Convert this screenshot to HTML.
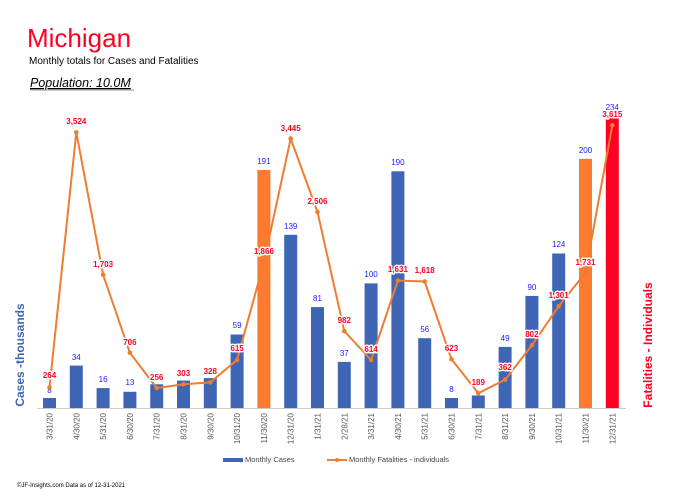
<!DOCTYPE html>
<html><head><meta charset="utf-8"><style>
body{margin:0;background:#fff;}
svg{display:block;font-family:"Liberation Sans",sans-serif;}
.c{font-size:8px;fill:#1a1aff;text-anchor:middle;}
.f{font-size:8px;fill:#ff0022;font-weight:bold;text-anchor:middle;}
.d{font-size:8px;fill:#555;text-anchor:end;}
</style></head><body>
<svg width="684" height="496" viewBox="0 0 684 496">
<text x="27" y="47" font-size="26" fill="#ff0022">Michigan</text>
<text x="29" y="64" font-size="10" fill="#000">Monthly totals for Cases and Fatalities</text>
<text x="30" y="87" font-size="12.5" font-style="italic" fill="#000" text-decoration="underline">Population: 10.0M</text>
<line x1="30" y1="90" x2="134" y2="90" stroke="#999" stroke-width="1"/>

<g fill="#3f65b5">
<rect x="43" y="398" width="13" height="10"/>
<rect x="69.8" y="365.6" width="13" height="42.4"/>
<rect x="96.6" y="388.1" width="13" height="19.9"/>
<rect x="123.4" y="391.8" width="13" height="16.2"/>
<rect x="150.2" y="384.3" width="13" height="23.7"/>
<rect x="177" y="380.6" width="13" height="27.4"/>
<rect x="203.8" y="378.1" width="13" height="29.9"/>
<rect x="230.6" y="334.5" width="13" height="73.5"/>
<rect x="284.2" y="234.8" width="13" height="173.2"/>
<rect x="311" y="307.1" width="13" height="100.9"/>
<rect x="337.8" y="361.9" width="13" height="46.1"/>
<rect x="364.6" y="283.4" width="13" height="124.6"/>
<rect x="391.4" y="171.3" width="13" height="236.7"/>
<rect x="418.2" y="338.2" width="13" height="69.8"/>
<rect x="445" y="398" width="13" height="10"/>
<rect x="471.8" y="395.5" width="13" height="12.5"/>
<rect x="498.6" y="346.9" width="13" height="61.1"/>
<rect x="525.4" y="295.9" width="13" height="112.1"/>
<rect x="552.2" y="253.5" width="13" height="154.5"/>
</g>
<rect x="257.4" y="170" width="13" height="238" fill="#fe7a2f"/>
<rect x="579" y="158.8" width="13" height="249.2" fill="#fe7a2f"/>
<rect x="605.8" y="116.4" width="13" height="291.6" fill="#ff0022"/>

<line x1="37" y1="408.5" x2="626" y2="408.5" stroke="#ccc"/>

<g>
<text class="c" x="49.5" y="393">8</text>
<text class="c" x="76.3" y="360">34</text>
<text class="c" x="103.1" y="382">16</text>
<text class="c" x="129.9" y="385">13</text>
<text class="c" x="237.1" y="328">59</text>
<text class="c" x="263.9" y="164">191</text>
<text class="c" x="290.7" y="229">139</text>
<text class="c" x="317.5" y="301">81</text>
<text class="c" x="344.3" y="356">37</text>
<text class="c" x="371.1" y="277">100</text>
<text class="c" x="397.9" y="165">190</text>
<text class="c" x="424.7" y="332">56</text>
<text class="c" x="451.5" y="392">8</text>
<text class="c" x="505.1" y="341">49</text>
<text class="c" x="531.9" y="290">90</text>
<text class="c" x="558.7" y="247">124</text>
<text class="c" x="585.5" y="153">200</text>
<text class="c" x="612.3" y="110">234</text>
</g>

<polyline fill="none" stroke="#ed7d31" stroke-width="2" points="49.5,387.4 76.3,132.4 103.1,274.8 129.9,352.8 156.7,388 183.5,384.3 210.3,382.4 237.1,359.9 263.9,262.1 290.7,138.6 317.5,212 344.3,331.2 371.1,360 397.9,280.5 424.7,281.5 451.5,359.3 478.3,393.2 505.1,379.7 531.9,345.3 558.7,306.3 585.5,272.6 612.3,125.3"/>
<g fill="#ed7d31">
<circle cx="49.5" cy="387.4" r="2.3"/><circle cx="76.3" cy="132.4" r="2.3"/><circle cx="103.1" cy="274.8" r="2.3"/><circle cx="129.9" cy="352.8" r="2.3"/><circle cx="156.7" cy="388" r="2.3"/><circle cx="183.5" cy="384.3" r="2.3"/><circle cx="210.3" cy="382.4" r="2.3"/><circle cx="237.1" cy="359.9" r="2.3"/><circle cx="263.9" cy="262.1" r="2.3"/><circle cx="290.7" cy="138.6" r="2.3"/><circle cx="317.5" cy="212" r="2.3"/><circle cx="344.3" cy="331.2" r="2.3"/><circle cx="371.1" cy="360" r="2.3"/><circle cx="397.9" cy="280.5" r="2.3"/><circle cx="424.7" cy="281.5" r="2.3"/><circle cx="451.5" cy="359.3" r="2.3"/><circle cx="478.3" cy="393.2" r="2.3"/><circle cx="505.1" cy="379.7" r="2.3"/><circle cx="531.9" cy="345.3" r="2.3"/><circle cx="558.7" cy="306.3" r="2.3"/><circle cx="585.5" cy="272.6" r="2.3"/><circle cx="612.3" cy="125.3" r="2.3"/>
</g>

<g stroke="#fff" stroke-width="3" paint-order="stroke" stroke-linejoin="round">
<text class="f" x="49.5" y="378">264</text>
<text class="f" x="76.3" y="124">3,524</text>
<text class="f" x="103.1" y="267">1,703</text>
<text class="f" x="129.9" y="345">706</text>
<text class="f" x="156.7" y="380">256</text>
<text class="f" x="183.5" y="376">303</text>
<text class="f" x="210.3" y="374">328</text>
<text class="f" x="237.1" y="351">615</text>
<text class="f" x="263.9" y="254">1,866</text>
<text class="f" x="290.7" y="131">3,445</text>
<text class="f" x="317.5" y="204">2,506</text>
<text class="f" x="344.3" y="323">982</text>
<text class="f" x="371.1" y="352">614</text>
<text class="f" x="397.9" y="272">1,631</text>
<text class="f" x="424.7" y="273">1,618</text>
<text class="f" x="451.5" y="351">623</text>
<text class="f" x="478.3" y="385">189</text>
<text class="f" x="505.1" y="370">362</text>
<text class="f" x="531.9" y="337">802</text>
<text class="f" x="558.7" y="298">1,301</text>
<text class="f" x="585.5" y="265">1,731</text>
<text class="f" x="612.3" y="117">3,615</text>
</g>

<g>
<text class="d" transform="translate(52.5,413) rotate(-90)">3/31/20</text>
<text class="d" transform="translate(79.3,413) rotate(-90)">4/30/20</text>
<text class="d" transform="translate(106.1,413) rotate(-90)">5/31/20</text>
<text class="d" transform="translate(132.9,413) rotate(-90)">6/30/20</text>
<text class="d" transform="translate(159.7,413) rotate(-90)">7/31/20</text>
<text class="d" transform="translate(186.5,413) rotate(-90)">8/31/20</text>
<text class="d" transform="translate(213.3,413) rotate(-90)">9/30/20</text>
<text class="d" transform="translate(240.1,413) rotate(-90)">10/31/20</text>
<text class="d" transform="translate(266.9,413) rotate(-90)">11/30/20</text>
<text class="d" transform="translate(293.7,413) rotate(-90)">12/31/20</text>
<text class="d" transform="translate(320.5,413) rotate(-90)">1/31/21</text>
<text class="d" transform="translate(347.3,413) rotate(-90)">2/28/21</text>
<text class="d" transform="translate(374.1,413) rotate(-90)">3/31/21</text>
<text class="d" transform="translate(400.9,413) rotate(-90)">4/30/21</text>
<text class="d" transform="translate(427.7,413) rotate(-90)">5/31/21</text>
<text class="d" transform="translate(454.5,413) rotate(-90)">6/30/21</text>
<text class="d" transform="translate(481.3,413) rotate(-90)">7/31/21</text>
<text class="d" transform="translate(508.1,413) rotate(-90)">8/31/21</text>
<text class="d" transform="translate(534.9,413) rotate(-90)">9/30/21</text>
<text class="d" transform="translate(561.7,413) rotate(-90)">10/31/21</text>
<text class="d" transform="translate(588.5,413) rotate(-90)">11/30/21</text>
<text class="d" transform="translate(615.3,413) rotate(-90)">12/31/21</text>
</g>

<text transform="translate(24,355) rotate(-90)" font-size="12" font-weight="bold" fill="#3f65b5" text-anchor="middle">Cases -thousands</text>
<text transform="translate(652,345) rotate(-90)" font-size="12" font-weight="bold" fill="#ff0022" text-anchor="middle">Fatalities - Individuals</text>

<rect x="223" y="458" width="20" height="4" fill="#3f65b5"/>
<text x="245" y="462" font-size="7.5" fill="#444">Monthly Cases</text>
<line x1="327" y1="460" x2="347" y2="460" stroke="#ed7d31" stroke-width="2"/>
<circle cx="337" cy="460" r="2" fill="#ed7d31"/>
<text x="349" y="462" font-size="7.5" fill="#444">Monthly Fatalities - individuals</text>
<text x="17" y="487" font-size="6" fill="#000">©JF-Insights.com  Data as of 12-31-2021</text>
</svg>
</body></html>
